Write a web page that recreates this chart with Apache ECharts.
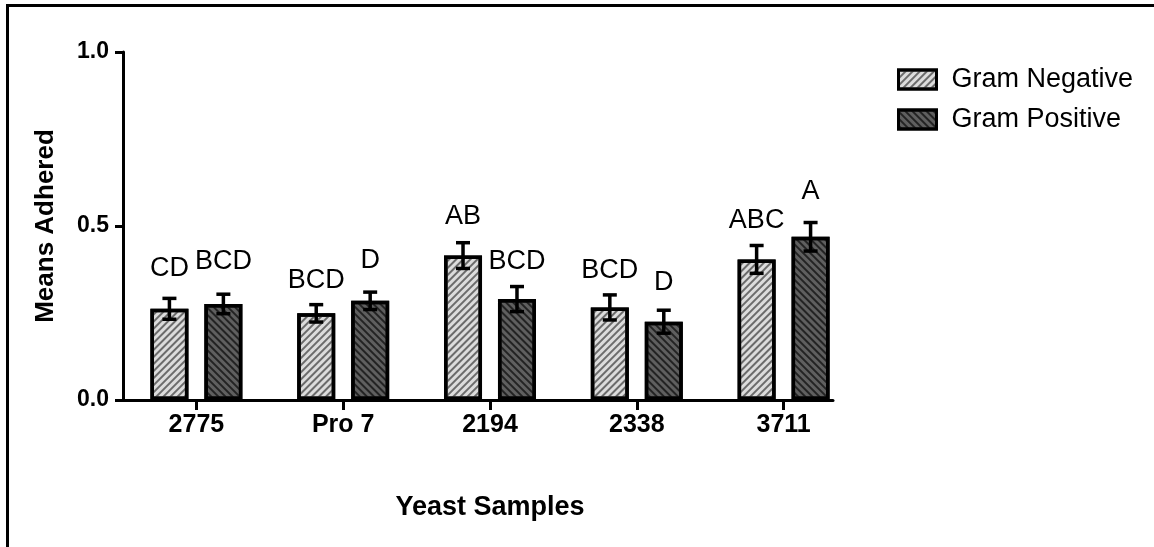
<!DOCTYPE html>
<html>
<head>
<meta charset="utf-8">
<script src="https://cdn.jsdelivr.net/npm/echarts@6/dist/echarts.min.js"></script>
<style>html,body{margin:0;padding:0;background:#fff}#c{width:1154px;height:547px}</style>
</head>
<body>
<div id="c"></div>
<script>
// ---- data ----
const categories = ['2775', 'Pro 7', '2194', '2338', '3711'];
const seriesNames = ['Gram Negative', 'Gram Positive'];
const negMeans = [0.262, 0.249, 0.415, 0.266, 0.404];
const negErr   = [0.030, 0.025, 0.037, 0.036, 0.040];
const posMeans = [0.276, 0.285, 0.290, 0.225, 0.469];
const posErr   = [0.028, 0.025, 0.036, 0.033, 0.041];
const negLetters = ['CD', 'BCD', 'AB', 'BCD', 'ABC'];
const posLetters = ['BCD', 'D', 'BCD', 'D', 'A'];
const negLetterY = [0.379, 0.342, 0.526, 0.371, 0.517];
const posLetterY = [0.397, 0.400, 0.397, 0.338, 0.598];

// ---- style ----
const FONT = "'Liberation Sans', Arial, sans-serif";
const BAR_W = 38, BAR_GAP = 0.42;
const chart = echarts.init(document.getElementById('c'));

const groups = [
  {means: negMeans, err: negErr, letters: negLetters, ly: negLetterY},
  {means: posMeans, err: posErr, letters: posLetters, ly: posLetterY}
];

function errSeries(si) {
  const g = groups[si];
  return {
    type: 'custom', xAxisIndex: 0, yAxisIndex: 0, z: 5, silent: true,
    data: categories.map((c, i) => [i, g.means[i], g.err[i], g.ly[i]]),
    renderItem: function (params, api) {
      const ci = api.value(0), v = api.value(1), e = api.value(2), ly = api.value(3);
      const off = (si - 0.5) * BAR_W * (1 + BAR_GAP);
      const x = api.coord([ci, v])[0] + off;
      const hi = api.coord([ci, v + e])[1];
      const lo = api.coord([ci, v - e])[1];
      const lp = api.coord([ci, ly])[1];
      const cap = 7;
      const st = {stroke: '#000', lineWidth: 3.5};
      return {
        type: 'group',
        children: [
          {type: 'line', shape: {x1: x, y1: hi, x2: x, y2: lo}, style: st},
          {type: 'line', shape: {x1: x - cap, y1: hi, x2: x + cap, y2: hi}, style: st},
          {type: 'line', shape: {x1: x - cap, y1: lo, x2: x + cap, y2: lo}, style: st},
          {type: 'text', x: x, y: lp, style: {text: g.letters[params.dataIndex], fill: '#000',
            font: '27px ' + FONT, align: 'center', verticalAlign: 'middle'}}
        ]
      };
    }
  };
}

const option = {
  backgroundColor: '#fff',
  animation: false,
  grid: [
    {left: 123, right: 297, top: 52, bottom: 147},
    {left: 123, width: 710, top: 52, bottom: 147}
  ],
  legend: {
    data: seriesNames,
    orient: 'vertical',
    left: 892, top: 61,
    icon: 'rect',
    itemWidth: 38, itemHeight: 19,
    itemGap: 13,
    itemStyle: {borderColor: '#000', borderWidth: 3},
    textStyle: {fontFamily: FONT, fontSize: 27, color: '#000', padding: [0, 0, 0, 10]}
  },
  xAxis: [
    {
      type: 'category', gridIndex: 0, data: categories,
      axisLine: {show: false},
      axisTick: {show: true, alignWithLabel: true, length: 10, lineStyle: {color: '#000', width: 3}},
      axisLabel: {fontFamily: FONT, fontWeight: 'bold', fontSize: 25, color: '#000', margin: 13},
      name: 'Yeast Samples', nameLocation: 'middle', nameGap: 94,
      nameTextStyle: {fontFamily: FONT, fontWeight: 'bold', fontSize: 27, color: '#000'}
    },
    {
      type: 'category', gridIndex: 1, data: [''],
      axisLine: {show: true, lineStyle: {color: '#000', width: 3}},
      axisTick: {show: false}, axisLabel: {show: false}
    }
  ],
  yAxis: [
    {
      type: 'value', gridIndex: 0, min: 0, max: 1, interval: 0.5,
      axisLine: {show: true, lineStyle: {color: '#000', width: 3}},
      axisTick: {show: true, length: 8, lineStyle: {color: '#000', width: 3}},
      splitLine: {show: false},
      axisLabel: {fontFamily: FONT, fontWeight: 'bold', fontSize: 23, color: '#000', margin: 14,
        formatter: v => v.toFixed(1)},
      name: 'Means Adhered', nameLocation: 'middle', nameGap: 64,
      nameTextStyle: {fontFamily: FONT, fontWeight: 'bold', fontSize: 26, color: '#000'}
    },
    {type: 'value', gridIndex: 1, show: false}
  ],
  series: [
    {
      name: seriesNames[0], type: 'bar', xAxisIndex: 0, yAxisIndex: 0,
      data: negMeans, barWidth: BAR_W, barGap: (BAR_GAP * 100) + '%',
      itemStyle: {
        color: '#dcdcdc', borderColor: '#000', borderWidth: 3.5,
        decal: {symbol: 'rect', symbolSize: 1, color: 'rgba(70,70,70,0.75)',
          dashArrayX: [1, 0], dashArrayY: [1.5, 3], rotation: -Math.PI / 4}
      }
    },
    {
      name: seriesNames[1], type: 'bar', xAxisIndex: 0, yAxisIndex: 0,
      data: posMeans, barWidth: BAR_W, barGap: (BAR_GAP * 100) + '%',
      itemStyle: {
        color: '#5f5f5f', borderColor: '#000', borderWidth: 3.5,
        decal: {symbol: 'rect', symbolSize: 1, color: 'rgba(20,20,20,0.8)',
          dashArrayX: [1, 0], dashArrayY: [1.5, 3], rotation: Math.PI / 4}
      }
    },
    errSeries(0),
    errSeries(1)
  ],
  graphic: [
    {type: 'rect', shape: {x: 7.5, y: 5.5, width: 1200, height: 600},
      style: {fill: 'none', stroke: '#000', lineWidth: 3}, silent: true}
  ]
};
chart.setOption(option);
</script>
</body>
</html>
